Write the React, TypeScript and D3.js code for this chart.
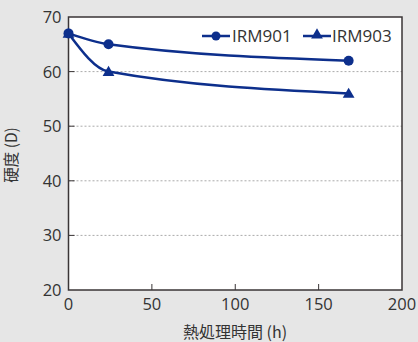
import React from "react";
import * as d3 from "d3";

const hours = [0, 24, 168];
const irm901 = [67, 65, 62];
const irm903 = [67, 60, 56];
const xTicks = [0, 50, 100, 150, 200];
const yTicks = [20, 30, 40, 50, 60, 70];
const seriesNames = ["IRM901", "IRM903"];

const W = 418, H = 342;
const M = { left: 68.5, right: 402, top: 17, bottom: 290 };
const COLOR = "#0d2f8c";
const AXIS = "#3a3536";
const FONT = "'Open Sans', 'Noto Sans CJK JP', sans-serif";
const CJK = "'Noto Sans CJK JP', sans-serif";

export default function App() {
  const x = d3.scaleLinear().domain([0, 200]).range([M.left, M.right]);
  const y = d3.scaleLinear().domain([20, 70]).range([M.bottom, M.top]);
  const line = d3
    .line<[number, number]>()
    .x((d) => x(d[0]))
    .y((d) => y(d[1]))
    .curve(d3.curveMonotoneX);
  const s1 = hours.map((h, i) => [h, irm901[i]] as [number, number]);
  const s2 = hours.map((h, i) => [h, irm903[i]] as [number, number]);
  const tri = d3.symbol().type(d3.symbolTriangle).size(60)();

  return (
    <svg width={W} height={H} style={{ position: "absolute", left: 0, top: 0 }}>
      <rect x={0} y={0} width={W} height={H} fill="#e6e6e6" />
      <rect x={M.left} y={M.top} width={M.right - M.left} height={M.bottom - M.top} fill="#fff" />
      {yTicks.slice(1, -1).map((t) => (
        <line key={"g" + t} x1={M.left} x2={M.right} y1={y(t)} y2={y(t)} stroke="#aaa" strokeWidth={1} strokeDasharray="2,2" />
      ))}
      {yTicks.slice(1, -1).map((t) => (
        <line key={"yt" + t} x1={M.left} x2={M.left + 6} y1={y(t)} y2={y(t)} stroke={AXIS} strokeWidth={1} />
      ))}
      {xTicks.slice(1, -1).map((t) => (
        <line key={"xt" + t} x1={x(t)} x2={x(t)} y1={M.bottom} y2={M.bottom - 6} stroke={AXIS} strokeWidth={1} />
      ))}
      <rect x={M.left} y={M.top} width={M.right - M.left} height={M.bottom - M.top} fill="none" stroke={AXIS} strokeWidth={1.5} />
      {yTicks.map((t) => (
        <text key={"yl" + t} x={M.left - 7} y={y(t)} dy="0.36em" textAnchor="end" fontSize={16.5} fill="#333" fontFamily={FONT}>
          {t}
        </text>
      ))}
      {xTicks.map((t) => (
        <text key={"xl" + t} x={x(t)} y={M.bottom + 20} textAnchor="middle" fontSize={16.5} fill="#333" fontFamily={FONT}>
          {t}
        </text>
      ))}
      <text x={235} y={338} textAnchor="middle" fontSize={16} fill="#333" fontFamily={CJK}>
        熱処理時間 (h)
      </text>
      <text transform={`translate(17,${155}) rotate(-90)`} textAnchor="middle" fontSize={15.5} fill="#333" fontFamily={CJK}>
        硬度 (D)
      </text>
      <path d={line(s1) || ""} fill="none" stroke={COLOR} strokeWidth={2.5} />
      <path d={line(s2) || ""} fill="none" stroke={COLOR} strokeWidth={2.5} />
      {s1.map((d, i) => (
        <circle key={"c" + i} cx={x(d[0])} cy={y(d[1])} r={5} fill={COLOR} />
      ))}
      {s2.map((d, i) => (
        <path key={"t" + i} d={tri || ""} transform={`translate(${x(d[0])},${y(d[1]) + 1})`} fill={COLOR} />
      ))}
      {/* legend */}
      <line x1={202} x2={230} y1={36} y2={36} stroke={COLOR} strokeWidth={2.5} />
      <circle cx={216} cy={36} r={4.5} fill={COLOR} />
      <text x={232} y={36} dy="0.36em" fontSize={17} fill="#333" fontFamily={FONT}>
        {seriesNames[0]}
      </text>
      <line x1={303} x2={331} y1={36} y2={36} stroke={COLOR} strokeWidth={2.5} />
      <path d={tri || ""} transform="translate(317,35)" fill={COLOR} />
      <text x={332} y={36} dy="0.36em" fontSize={17} fill="#333" fontFamily={FONT}>
        {seriesNames[1]}
      </text>
    </svg>
  );
}
